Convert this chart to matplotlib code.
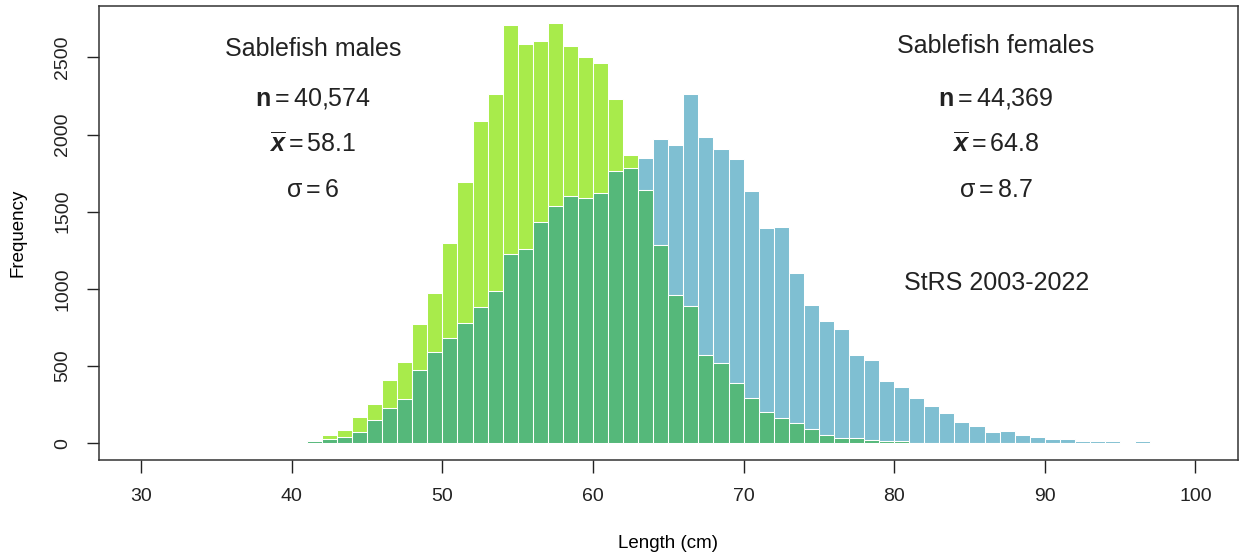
import matplotlib.pyplot as plt
import numpy as np

plt.rcParams['font.family'] = ['Liberation Sans', 'DejaVu Sans']
plt.rcParams['mathtext.fontset'] = 'custom'
plt.rcParams['mathtext.rm'] = 'Liberation Sans'
plt.rcParams['mathtext.bf'] = 'Liberation Sans:bold'
plt.rcParams['mathtext.it'] = 'Liberation Sans:italic'
plt.rcParams['mathtext.bfit'] = 'Liberation Sans:bold:italic'

# 1 cm length bins, left edges 41..96
lengths = np.arange(41, 97)

males = [12, 52, 84, 169, 253, 409, 523, 774, 971, 1295,
         1690, 2086, 2265, 2713, 2587, 2607, 2724, 2577, 2503, 2464,
         2231, 1868, 1639, 1282, 960, 886, 571, 517, 393, 290,
         203, 164, 134, 91, 54, 32, 32, 22, 14, 13,
         0, 0, 0, 0, 0, 0, 0, 0, 0, 0,
         0, 0, 0, 0, 0, 0]

females = [13, 26, 37, 73, 151, 227, 288, 476, 590, 681,
           776, 882, 984, 1224, 1256, 1433, 1539, 1600, 1589, 1621,
           1766, 1785, 1845, 1972, 1930, 2261, 1986, 1907, 1842, 1634,
           1396, 1403, 1105, 893, 791, 737, 571, 538, 404, 363,
           290, 240, 198, 135, 113, 71, 82, 52, 43, 24,
           24, 15, 15, 15, 0, 15]

male_stats = ['Sablefish males', r'$\mathbf{n} = 40{,}574$',
              r'$\overline{\mathbfit{x}} = 58.1$', r'$\mathrm{σ} = 6$']
female_stats = ['Sablefish females', r'$\mathbf{n} = 44{,}369$',
                r'$\overline{\mathbfit{x}} = 64.8$', r'$\mathrm{σ} = 8.7$']

col_f = '#7fbfd2'
col_m = '#a8eb4b'
col_both = '#55b87a'

fig = plt.figure(figsize=(12.41, 5.58), dpi=100)
ax = fig.add_axes([0.0798, 0.1756, 0.9174, 0.8136])

ax.bar(lengths, females, width=1, align='edge', color=col_f, edgecolor='white', linewidth=0.75)
ax.bar(lengths, males, width=1, align='edge', color=col_m, edgecolor='white', linewidth=0.75)
ax.bar(lengths, np.minimum(males, females), width=1, align='edge', color=col_both,
       edgecolor='white', linewidth=0.75)

ymax = max(max(males), max(females))
ax.set_xlim(27.2, 102.8)
ax.set_ylim(-0.04 * ymax, 1.04 * ymax)
ax.set_xticks(range(30, 101, 10))
ax.set_yticks(range(0, 2501, 500))
ax.tick_params(length=9, width=1, labelsize=14, pad=11, colors='#222222')
for lab in ax.get_yticklabels():
    lab.set_rotation(90)
    lab.set_va('center')

for s in ax.spines.values():
    s.set_linewidth(1.1)
    s.set_color('#333333')

ax.set_xlabel('Length (cm)', fontsize=13.5, labelpad=22)
ax.set_ylabel('Frequency', fontsize=13.5, labelpad=20)

# annotations (baselines)
ys = [2508, 2189, 1887, 1598]
for t, y in zip(male_stats, ys):
    ax.text(41.4, y, t, fontsize=18, ha='center', va='baseline', color='#222222')
ys_f = [2530, 2189, 1887, 1598]
for t, y in zip(female_stats, ys_f):
    ax.text(86.76, y, t, fontsize=18, ha='center', va='baseline', color='#222222')
ax.text(86.8, 995, 'StRS 2003-2022', fontsize=18, ha='center', va='baseline', color='#222222')

plt.savefig('out.png', dpi=100)
